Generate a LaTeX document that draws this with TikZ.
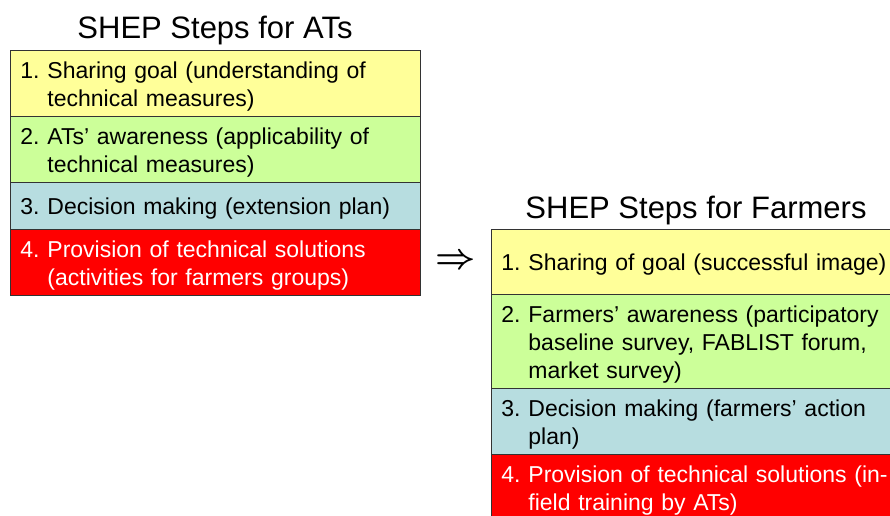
\documentclass[tikz,border=0pt]{standalone}
\usepackage{fontspec}
\usepackage{graphicx}
\setmainfont{Liberation Sans}
\definecolor{stepyellow}{HTML}{FFFF99}
\definecolor{stepgreen}{HTML}{CCFF99}
\definecolor{stepblue}{HTML}{B7DDE0}
\definecolor{stepred}{HTML}{FF0000}
\definecolor{rule}{HTML}{333333}
% numbered entry with a hanging indent: number, then the lines of the entry;
% the whole entry sits a little below the row's centre
\newcommand\steptext[2]{\raisebox{-3pt}[\height][\depth]{\makebox[27pt][l]{#1}\begin{tabular}[t]{@{}l@{}}#2\end{tabular}}}
\tikzset{
  title/.style={font=\fontsize{31}{36}\selectfont, inner sep=0pt},
  rowbox/.style={draw=rule, line width=0.9pt, anchor=north west, align=left,
    inner xsep=10pt, inner ysep=0pt, font=\fontsize{23}{28}\selectfont},
  leftrow/.style={rowbox, text width=390pt},
  rightrow/.style={rowbox, text width=394pt},
}
\begin{document}
\begin{tikzpicture}[x=1pt, y=-1pt]
\path[clip] (0,0) rectangle (890,515);
\fill[white] (0,0) rectangle (890,515);

% steps for agricultural technicians
\node[title] (tl) at (215,30) {SHEP Steps for ATs};
\node[leftrow, fill=stepyellow, minimum height=66pt] (l1) at (10,50)
  {\steptext{1.}{Sharing goal (understanding of\\technical measures)}};
\node[leftrow, fill=stepgreen, minimum height=66pt] (l2) at (10,116)
  {\steptext{2.}{ATs’ awareness (applicability of\\technical measures)}};
\node[leftrow, fill=stepblue, minimum height=47pt] (l3) at (10,182)
  {\steptext{3.}{Decision making (extension plan)}};
\node[leftrow, fill=stepred, text=white, minimum height=66pt] (l4) at (10,229)
  {\steptext{4.}{Provision of technical solutions\\(activities for farmers groups)}};

% transition arrow
\node[inner sep=0pt] (arr) at (456,262) {\scalebox{3.5}{\boldmath$\Rightarrow$}};

% steps for farmers
\node[title] (tr) at (696,210) {SHEP Steps for Farmers};
\node[rightrow, fill=stepyellow, minimum height=65pt] (r1) at (491,229)
  {\steptext{1.}{Sharing of goal (successful image)}};
\node[rightrow, fill=stepgreen, minimum height=94pt] (r2) at (491,294)
  {\steptext{2.}{Farmers’ awareness (participatory\\baseline survey, FABLIST forum,\\market survey)}};
\node[rightrow, fill=stepblue, minimum height=66pt] (r3) at (491,388)
  {\steptext{3.}{Decision making (farmers’ action\\plan)}};
\node[rightrow, fill=stepred, text=white, minimum height=67pt] (r4) at (491,454)
  {\steptext{4.}{Provision of technical solutions (in-\\field training by ATs)}};
\end{tikzpicture}
\end{document}
